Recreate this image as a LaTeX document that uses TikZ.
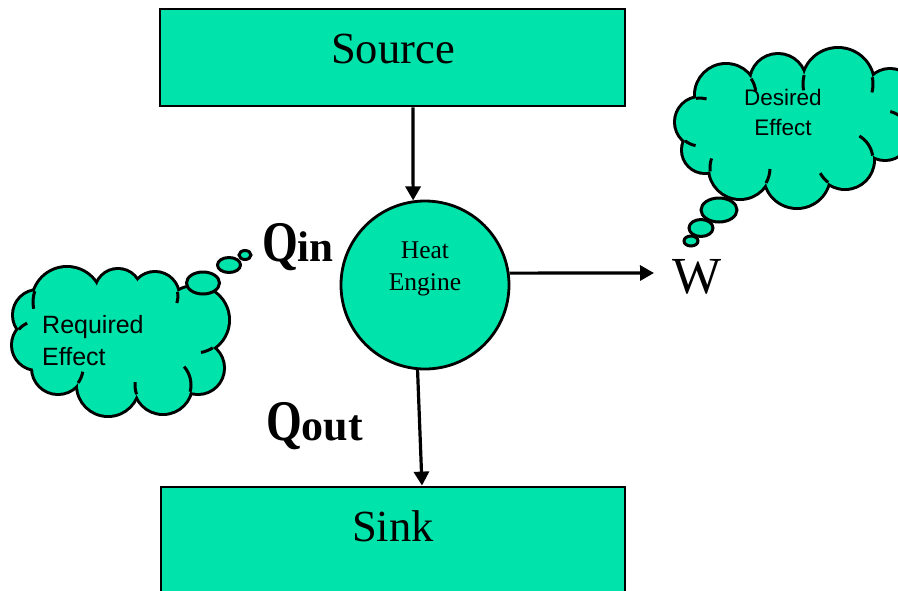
\documentclass[tikz,border=0pt]{standalone}
\usepackage{fontspec}
\setmainfont{Liberation Serif}
\newfontfamily\cloudfont{Liberation Sans}
\usetikzlibrary{arrows.meta}
\definecolor{engfill}{RGB}{0,227,170}
\tikzset{
  box/.style={rectangle, draw=black, line width=2.8pt, fill=engfill, inner sep=0pt},
  engine/.style={circle, draw=black, line width=2.8pt, fill=engfill, minimum size=168pt, inner sep=0pt},
  arr/.style={line width=3.2pt, -{Triangle[length=14pt,width=15pt]}},
  bigtxt/.style={font=\fontsize{44.5}{48}\selectfont, inner sep=0pt, anchor=base},
  qtxt/.style={font=\bfseries, inner sep=0pt, anchor=base west},
  puffline/.style={line width=6pt, draw=black},
  pufffill/.style={fill=engfill},
  innerarc/.style={line width=3pt, draw=black},
  bubble/.style={draw=black, line width=3pt, fill=engfill},
}
\newcommand{\bigQ}{\scalebox{1}[1.25]{\fontsize{46}{46}\selectfont Q}}
% inner arcs of a cloud: ax/ay/ar/bx/by/br/mode/span
\newcommand{\cloudarcs}[1]{%
  \foreach \ax/\ay/\ar/\bx/\by/\br/\md/\sp in {#1} {
    \pgfmathsetmacro\dd{veclen(\bx-\ax,\by-\ay)}
    \pgfmathsetmacro\ph{atan2(\by-\ay,\bx-\ax)}
    \ifnum\md=1
      \pgfmathsetmacro\al{acos((\dd*\dd+\ar*\ar-\br*\br)/(2*\dd*\ar))}
      \pgfmathsetmacro\st{\ph-\al}
      \pgfmathsetmacro\en{\st+\sp}
      \draw[innerarc] (\ax,\ay) ++(\st:\ar) arc[start angle=\st, end angle=\en, radius=\ar];
    \else
      \pgfmathsetmacro\al{acos((\dd*\dd+\br*\br-\ar*\ar)/(2*\dd*\br))}
      \pgfmathsetmacro\st{\ph+180+\al}
      \pgfmathsetmacro\en{\st-\sp}
      \draw[innerarc] (\bx,\by) ++(\st:\br) arc[start angle=\st, end angle=\en, radius=\br];
    \fi
  }}
\begin{document}
\begin{tikzpicture}[x=1pt,y=-1pt]
\useasboundingbox (0,0) rectangle (898,590);
\clip (0,0) rectangle (898,590);
% boxes
\node[box, minimum width=465pt, minimum height=97pt] (src) at (392.5,57.5) {};
\node[bigtxt] (srct) at (393,63) {Source};
\node[box, minimum width=464pt, minimum height=140pt] (snk) at (393,557) {};
\node[bigtxt] (snkt) at (393,541) {Sink};
% engine
\node[engine] (eng) at (425,285) {};
\node[font=\fontsize{25.5}{32}\selectfont, align=center, inner sep=0pt, anchor=base] (engt) at (425,290) {Heat\\Engine};
% W
\node[font=\fontsize{52}{52}\selectfont, inner sep=0pt, anchor=base] (w) at (697,293) {W};
\coordinate (wend) at (654,273);
% arrows
\draw[arr] ([xshift=20.5pt]src.south) -- (eng.98);
\draw[arr] (eng.265) -- ([xshift=29pt]snk.north);
\draw[arr] (eng.8) -- (wend);
% Q labels
\node[qtxt] (qin) at (262,261) {\bigQ{\fontsize{43}{43}\selectfont in}};
\node[qtxt] (qout) at (266,440) {\bigQ{\fontsize{44}{44}\selectfont out}};
% left cloud
\def\leftpuffs{67/302/34, 118/292/22, 155/296/23, 195/320/33, 198/368/25, 163/385/28, 108/385/30, 58/368/25, 37/345/24, 38/315/24}
\foreach \x/\y/\r in \leftpuffs \draw[puffline] (\x,\y) circle[radius=\r];
\foreach \x/\y/\r in \leftpuffs \fill[pufffill] (\x,\y) circle[radius=\r];
\fill[pufffill] (120,340) ellipse[x radius=85, y radius=48];
\cloudarcs{38/315/24/67/302/34/2/30, 155/296/23/195/320/33/1/28, 195/320/33/198/368/25/1/22, 198/368/25/163/385/28/2/55, 163/385/28/108/385/30/1/25, 108/385/30/58/368/25/2/28, 37/345/24/38/315/24/1/25}
\draw[bubble] (203,283) ellipse[x radius=16.5, y radius=11];
\draw[bubble] (229,265) ellipse[x radius=11.5, y radius=7.5];
\draw[bubble] (245,255) ellipse[x radius=6, y radius=4.5];
\node[font=\cloudfont\fontsize{25}{32}\selectfont, align=left, inner sep=0pt, anchor=base west] (reqt) at (42,365) {Required\\Effect};
% right cloud
\def\rightpuffs{726/95/30, 778/82/27, 838/84/35, 890/95/25, 885/135/24, 845/160/28, 797/175/32, 740/168/30, 705/150/22, 700/122/24}
\foreach \x/\y/\r in \rightpuffs \draw[puffline] (\x,\y) circle[radius=\r];
\foreach \x/\y/\r in \rightpuffs \fill[pufffill] (\x,\y) circle[radius=\r];
\fill[pufffill] (790,125) ellipse[x radius=90, y radius=45];
\cloudarcs{726/95/30/778/82/27/1/25, 778/82/27/838/84/35/2/25, 838/84/35/890/95/25/1/25, 890/95/25/885/135/24/2/30, 885/135/24/845/160/28/2/50, 845/160/28/797/175/32/1/25, 797/175/32/740/168/30/2/28, 740/168/30/705/150/22/1/25, 705/150/22/700/122/24/2/28, 700/122/24/726/95/30/1/25}
\draw[bubble] (719,210) ellipse[x radius=18, y radius=12];
\draw[bubble] (701,228) ellipse[x radius=12, y radius=8.5];
\draw[bubble] (691,241) ellipse[x radius=7, y radius=5];
\node[font=\cloudfont\fontsize{22.5}{30}\selectfont, align=center, inner sep=0pt, anchor=base] (dest) at (783,135) {Desired\\Effect};
\end{tikzpicture}
\end{document}
